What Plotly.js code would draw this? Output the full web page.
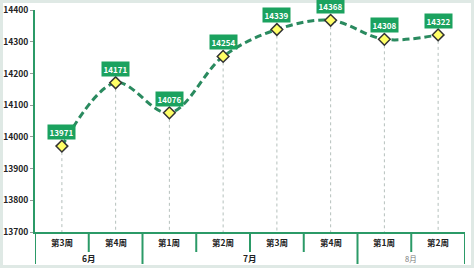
<!DOCTYPE html>
<html><head><meta charset="utf-8">
<script src="https://cdn.plot.ly/plotly-3.0.1.min.js"></script>
<style>
html,body{margin:0;padding:0;background:#dfe9e5;width:474px;height:268px;overflow:hidden;}
#bg{position:absolute;left:3px;top:3px;width:468px;height:262px;background:#fff;}
#chart{position:absolute;left:0;top:0;width:474px;height:268px;}
</style></head><body>
<div id="bg"></div>
<div id="chart"></div>
<script>
var months = ["6月","6月","7月","7月","7月","7月","8月","8月"];
var weeks = ["第3周","第4周","第1周","第2周","第3周","第4周","第1周","第2周"];
var values = [13971, 14171, 14076, 14254, 14339, 14368, 14308, 14322];
var yTicks = [13700, 13800, 13900, 14000, 14100, 14200, 14300, 14400];
var yBase = 13700;

var idx = values.map(function(v,i){return i;});
var dropX = [], dropY = [];
idx.forEach(function(i){ dropX.push(i,i,null); dropY.push(values[i], yBase, null); });

var green = "#2b9a67";
var font = "'Noto Sans CJK SC', 'DejaVu Sans', sans-serif";
var plotH = 222;

// group boundaries derived from months
var groups = [];
months.forEach(function(m,i){
  if (!groups.length || groups[groups.length-1].name !== m) groups.push({name:m, start:i, end:i});
  else groups[groups.length-1].end = i;
});
var groupBounds = [-0.5];
groups.forEach(function(g){ groupBounds.push(g.end + 0.5); });
var weekBounds = [];
for (var b = 0; b < months.length - 1; b++) {
  if (months[b] === months[b+1]) weekBounds.push(b + 0.5);
}

var traces = [
  {x: dropX, y: dropY, mode: "lines", line: {color: "#b5c0bc", width: 1, dash: "dot"}, hoverinfo: "skip", showlegend: false},
  {x: idx, y: values, mode: "lines", line: {color: "#2a8a5f", width: 3, dash: "7px,4px", shape: "spline", smoothing: 1}, showlegend: false},
  {x: idx, y: values, mode: "markers", marker: {symbol: "diamond", size: 9, color: "#ffff66", line: {color: "#333", width: 1.5}}, showlegend: false}
];

var annotations = idx.map(function(i){
  return {x: i, y: values[i], xref: "x", yref: "y", text: "<b>" + values[i] + "</b>", showarrow: false,
    yanchor: "bottom", yshift: 6, bgcolor: "#1ba25f", borderpad: 1.5,
    font: {family: font, size: 8, color: "#fff"}};
});
weeks.forEach(function(w,i){
  annotations.push({x: i, y: -10/plotH, xref: "x", yref: "paper", text: "<b>" + w + "</b>", showarrow: false,
    yanchor: "middle", font: {family: font, size: 8.5, color: "#222"}});
});
groups.forEach(function(g, k){
  var last = k === groups.length - 1;
  annotations.push({x: (g.start + g.end)/2, y: -26/plotH, xref: "x", yref: "paper",
    text: last ? g.name : "<b>" + g.name + "</b>", showarrow: false, yanchor: "middle",
    font: {family: font, size: last ? 7.5 : 8.5, color: last ? "#777" : "#222"}});
});

var shapes = [];
weekBounds.forEach(function(x){
  shapes.push({type: "line", xref: "x", yref: "paper", x0: x, x1: x, y0: 0, y1: -20/plotH, line: {color: green, width: 2}});
});
groupBounds.forEach(function(x){
  shapes.push({type: "line", xref: "x", yref: "paper", x0: x, x1: x, y0: 0, y1: -32/plotH, line: {color: green, width: 2}});
});

var layout = {
  width: 474, height: 268,
  margin: {l: 35, r: 9, t: 10, b: 36},
  paper_bgcolor: "rgba(0,0,0,0)", plot_bgcolor: "rgba(0,0,0,0)",
  xaxis: {range: [-0.5, 7.5], showline: true, linecolor: green, linewidth: 2, showgrid: false, zeroline: false,
    showticklabels: false, ticks: ""},
  yaxis: {range: [13700, 14400.5], tickvals: yTicks, ticktext: yTicks.map(String), showgrid: false, zeroline: false,
    showline: true, linecolor: green, linewidth: 2, ticks: "outside", ticklen: 3, tickcolor: "#999",
    tickfont: {family: font, size: 8.5, color: "#222", weight: "bold"}},
  annotations: annotations,
  shapes: shapes,
  showlegend: false
};
Plotly.newPlot("chart", traces, layout, {displayModeBar: false, staticPlot: true});
</script>
</body></html>
